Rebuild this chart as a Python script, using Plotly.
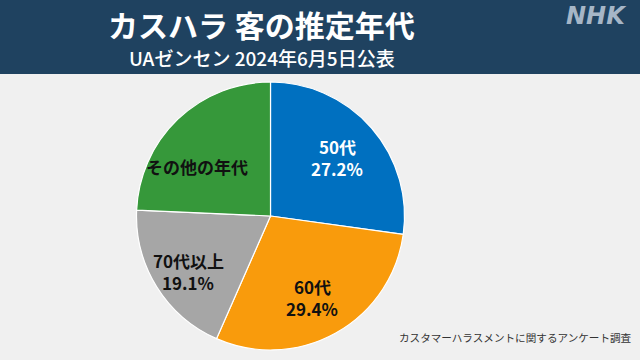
import math
import plotly.graph_objects as go

categories = ["50代", "60代", "70代以上", "その他の年代"]
values = [27.2, 29.4, 19.1, 24.3]
labels_text = ["50代<br>27.2%", "60代<br>29.4%", "70代以上<br>19.1%", "その他の年代"]
colors = ["#0070c0", "#f99b0c", "#a6a6a6", "#36983a"]
text_colors = ["#ffffff", "#111111", "#111111", "#111111"]
# label placement style: radial fraction and angular nudge (degrees)
label_rfrac = [0.66, 0.68, 0.74, 0.66]
label_nudge = [0, 2, -2, -12]
LINE_GAP = 22

W, H = 640, 360
cx, cy, r = 270.5, 216, 134

fig = go.Figure(go.Pie(
    labels=categories,
    values=values,
    textinfo="none",
    sort=False,
    direction="clockwise",
    rotation=0,
    marker=dict(colors=colors, line=dict(color="#ffffff", width=1.2)),
    hoverinfo="skip",
    showlegend=False,
    domain=dict(x=[(cx - r) / W, (cx + r) / W], y=[(H - cy - r) / H, (H - cy + r) / H]),
))

annotations = []
total = sum(values)
acc = 0.0
for txt, v, col, rf, nd in zip(labels_text, values, text_colors, label_rfrac, label_nudge):
    mid = (acc + v / 2) / total * 360 + nd
    acc += v
    a = math.radians(mid)
    px = cx + rf * r * math.sin(a)
    py = cy - rf * r * math.cos(a)
    lines = txt.split("<br>")
    n = len(lines)
    for i, ln in enumerate(lines):
        ly = py + (i - (n - 1) / 2) * LINE_GAP
        annotations.append(dict(text=ln, x=px / W, y=1 - ly / H, xref="paper", yref="paper",
                                xanchor="center", yanchor="middle", showarrow=False, borderpad=0,
                                font=dict(family="Noto Sans CJK JP", size=17, color=col, weight=700)))

annotations += [
    dict(text="カスハラ 客の推定年代", x=261 / W, y=1 - 24 / H, xref="paper", yref="paper",
         yanchor="middle", xanchor="center", borderpad=0,
         showarrow=False, font=dict(family="Noto Sans CJK JP", size=30, color="#ffffff", weight=700)),
    dict(text="UAゼンセン 2024年6月5日公表", x=262 / W, y=1 - 58 / H, xref="paper", yref="paper",
         yanchor="middle", xanchor="center", borderpad=0,
         showarrow=False, font=dict(family="Noto Sans CJK JP", size=19, color="#ffffff", weight=500)),
    dict(text="<i>NHK</i>", x=596 / W, y=1 - 16 / H, xref="paper", yref="paper",
         yanchor="middle", xanchor="center",
         showarrow=False, font=dict(family="DejaVu Sans", size=24, color="#a6b6c7", weight=900)),
    dict(text="カスタマーハラスメントに関するアンケート調査", x=634 / W, y=1 - 337 / H,
         xref="paper", yref="paper", xanchor="right", yanchor="middle", showarrow=False,
         font=dict(family="Noto Sans CJK JP", size=10.6, color="#333333")),
]

fig.update_layout(
    width=W, height=H,
    margin=dict(l=0, r=0, t=0, b=0),
    paper_bgcolor="#f0f0f0",
    plot_bgcolor="#f0f0f0",
    shapes=[dict(type="rect", xref="paper", yref="paper", x0=0, x1=1,
                 y0=(H - 74) / H, y1=1, fillcolor="#1f4260", line=dict(width=0), layer="below")],
    annotations=annotations,
)

fig.write_html("out.html", config={"displayModeBar": False},
               post_script="document.body.style.margin='0';document.body.style.overflow='hidden';")
